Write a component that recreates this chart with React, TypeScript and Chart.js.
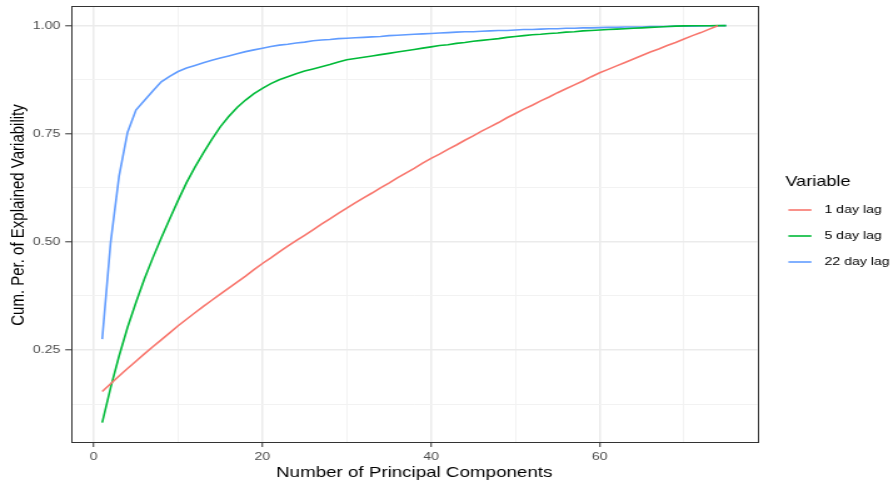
import React, { useEffect, useRef } from "react";
import { Chart, registerables } from "chart.js";

Chart.register(...registerables);

// ---- data ----
const seriesLabels = ["1 day lag", "5 day lag", "22 day lag"];
const seriesColors = ["#F8766D", "#00BA38", "#619CFF"];

const lag1 = [
  0.154, 0.172, 0.190, 0.207, 0.224, 0.241, 0.2575, 0.2735, 0.2895, 0.306,
  0.321, 0.336, 0.351, 0.365, 0.379, 0.393, 0.407, 0.421, 0.436, 0.450,
  0.463, 0.477, 0.490, 0.503, 0.515, 0.528, 0.541, 0.553, 0.566, 0.578,
  0.590, 0.602, 0.613, 0.625, 0.636, 0.648, 0.659, 0.670, 0.682, 0.693,
  0.703, 0.714, 0.724, 0.735, 0.745, 0.756, 0.766, 0.776, 0.787, 0.797,
  0.807, 0.816, 0.826, 0.835, 0.845, 0.854, 0.863, 0.872, 0.882, 0.891,
  0.899, 0.907, 0.915, 0.923, 0.931, 0.939, 0.946, 0.954, 0.961, 0.969,
  0.977, 0.984, 0.992, 1.0,
];

const lag5 = [
  0.082, 0.163, 0.236, 0.302, 0.360, 0.414, 0.463, 0.509, 0.553, 0.596,
  0.637, 0.673, 0.706, 0.737, 0.766, 0.790, 0.811, 0.828, 0.843, 0.855,
  0.866, 0.875, 0.882, 0.889, 0.895, 0.900, 0.905, 0.910, 0.916, 0.921,
  0.924, 0.927, 0.930, 0.933, 0.936, 0.939, 0.942, 0.945, 0.948, 0.951,
  0.954, 0.956, 0.959, 0.961, 0.964, 0.966, 0.968, 0.970, 0.973, 0.975,
  0.977, 0.979, 0.980, 0.982, 0.983, 0.985, 0.986, 0.988, 0.989, 0.990,
  0.991, 0.992, 0.993, 0.994, 0.995, 0.996, 0.997, 0.998, 0.999, 0.9995,
  0.9997, 0.9998, 0.9999, 1.0, 1.0,
];

const lag22 = [
  0.275, 0.499, 0.652, 0.753, 0.805, 0.827, 0.849, 0.870, 0.883, 0.894,
  0.902, 0.908, 0.914, 0.920, 0.925, 0.930, 0.935, 0.940, 0.944, 0.948,
  0.952, 0.955, 0.957, 0.960, 0.962, 0.965, 0.967, 0.968, 0.970, 0.971,
  0.972, 0.973, 0.974, 0.975, 0.977, 0.978, 0.979, 0.980, 0.981, 0.982,
  0.983, 0.984, 0.985, 0.986, 0.986, 0.987, 0.988, 0.989, 0.989, 0.990,
  0.991, 0.991, 0.992, 0.993, 0.993, 0.994, 0.994, 0.995, 0.995, 0.9955,
  0.996, 0.996, 0.997, 0.997, 0.997, 0.998, 0.998, 0.998, 0.999, 0.999,
  0.999, 0.9995, 0.9997, 0.9999, 1.0,
];

const xGridTicks = [0, 10, 20, 30, 40, 50, 60, 70];
const xLabelTicks = [0, 20, 40, 60];
const yGridTicks = [0.125, 0.25, 0.375, 0.5, 0.625, 0.75, 0.875, 1.0];
const yLabelTicks = [0.25, 0.5, 0.75, 1.0];

const xTitle = "Number of Principal Components";
const yTitle = "Cum. Per. of Explained Variability";
const legendTitle = "Variable";

// ---- layout (internal canvas px; canvas is stretched horizontally) ----
const SCREEN_W = 893;
const H = 485;
const STRETCH = 1.25;
const W = Math.round(SCREEN_W / STRETCH);
const FONT = "'Liberation Sans', Arial, Helvetica, sans-serif";
const TICK_SIZE = 11.3;
const TITLE_SIZE = 15;

const isLabel = (v: number, list: number[]) =>
  list.some((t) => Math.abs(t - v) < 1e-9);

const borderPlugin = {
  id: "panelBorder",
  afterDatasetsDraw(chart: any) {
    const { ctx, chartArea } = chart;
    ctx.save();
    ctx.strokeStyle = "#333333";
    ctx.lineWidth = 1;
    ctx.strokeRect(
      Math.round(chartArea.left) + 0.5,
      Math.round(chartArea.top) + 0.5,
      Math.round(chartArea.right - chartArea.left),
      Math.round(chartArea.bottom - chartArea.top)
    );
    ctx.restore();
  },
};

const yTitlePlugin = {
  id: "yTitle",
  afterDraw(chart: any) {
    const ctx = chart.ctx;
    ctx.save();
    ctx.translate(19 / STRETCH, 215);
    ctx.rotate(-Math.PI / 2);
    ctx.fillStyle = "#000000";
    ctx.textAlign = "center";
    ctx.textBaseline = "middle";
    ctx.font = `${TITLE_SIZE}px ${FONT}`;
    ctx.fillText(yTitle, 0, 0);
    ctx.restore();
  },
};

const legendPlugin = {
  id: "ggLegend",
  afterDraw(chart: any) {
    const ctx = chart.ctx;
    ctx.save();
    ctx.fillStyle = "#000000";
    ctx.textBaseline = "middle";
    ctx.textAlign = "left";
    ctx.font = `14.5px ${FONT}`;
    ctx.fillText(legendTitle, 785 / STRETCH, 182);
    const rows = [210, 236, 262];
    chart.data.datasets.forEach((ds: any, i: number) => {
      const y = rows[i];
      ctx.strokeStyle = ds.borderColor;
      ctx.lineWidth = 1.6;
      ctx.beginPath();
      ctx.moveTo(788 / STRETCH, y);
      ctx.lineTo(811 / STRETCH, y);
      ctx.stroke();
      ctx.fillStyle = "#000000";
      ctx.font = `${TICK_SIZE}px ${FONT}`;
      ctx.fillText(ds.label, 824 / STRETCH, y);
    });
    ctx.restore();
  },
};

export default function App() {
  const ref = useRef<HTMLCanvasElement | null>(null);

  useEffect(() => {
    if (!ref.current) return;
    const series = [lag1, lag5, lag22];
    const chart = new Chart(ref.current, {
      type: "line",
      data: {
        datasets: series.map((vals, s) => ({
          label: seriesLabels[s],
          data: vals.map((y, i) => ({ x: i + 1, y })),
          borderColor: seriesColors[s],
          backgroundColor: seriesColors[s],
          borderWidth: 1.6,
          pointRadius: 0,
          tension: 0,
          fill: false,
        })),
      },
      options: {
        responsive: false,
        animation: false,
        devicePixelRatio: 1,
        layout: { padding: { top: 6, right: W - 757 / STRETCH, bottom: 0, left: 0 } },
        plugins: {
          legend: { display: false },
          tooltip: { enabled: false },
        },
        scales: {
          x: {
            type: "linear",
            min: -2.7,
            max: 78.7,
            afterBuildTicks: (scale: any) => {
              scale.ticks = xGridTicks.map((v) => ({ value: v }));
            },
            afterFit: (scale: any) => {
              scale.height = H - 442;
              scale.paddingLeft = 0;
              scale.paddingRight = 0;
              scale.paddingTop = 0;
              scale.paddingBottom = 0;
            },
            ticks: {
              autoSkip: false,
              maxRotation: 0,
              padding: 3,
              color: "#4D4D4D",
              font: { family: FONT, size: TICK_SIZE },
              callback: (v: any) => (isLabel(Number(v), xLabelTicks) ? String(v) : ""),
            },
            grid: {
              color: (c: any) => (isLabel(c.tick?.value, xLabelTicks) ? "#EBEBEB" : "#F2F2F2"),
              lineWidth: (c: any) => (isLabel(c.tick?.value, xLabelTicks) ? 1.5 : 1),
              tickColor: (c: any) => (isLabel(c.tick?.value, xLabelTicks) ? "#333333" : "rgba(0,0,0,0)"),
              tickLength: 5,
              tickWidth: 1,
            },
            border: { display: false },
            title: {
              display: true,
              text: xTitle,
              color: "#000000",
              font: { family: FONT, size: TITLE_SIZE },
              padding: { top: 0, bottom: 3 },
            },
          },
          y: {
            type: "linear",
            min: 0.0372,
            max: 1.0455,
            afterBuildTicks: (scale: any) => {
              scale.ticks = yGridTicks.map((v) => ({ value: v }));
            },
            afterFit: (scale: any) => {
              scale.width = 71 / STRETCH;
              scale.paddingLeft = 0;
              scale.paddingRight = 0;
              scale.paddingTop = 0;
              scale.paddingBottom = 0;
            },
            ticks: {
              autoSkip: false,
              padding: 4,
              color: "#4D4D4D",
              font: { family: FONT, size: TICK_SIZE },
              callback: (v: any) => (isLabel(Number(v), yLabelTicks) ? Number(v).toFixed(2) : ""),
            },
            grid: {
              color: (c: any) => (isLabel(c.tick?.value, yLabelTicks) ? "#EBEBEB" : "#F2F2F2"),
              lineWidth: (c: any) => (isLabel(c.tick?.value, yLabelTicks) ? 1.6 : 1),
              tickColor: (c: any) => (isLabel(c.tick?.value, yLabelTicks) ? "#333333" : "rgba(0,0,0,0)"),
              tickLength: 4.6,
              tickWidth: 1,
            },
            border: { display: false },
            title: { display: false },
          },
        },
      },
      plugins: [borderPlugin, yTitlePlugin, legendPlugin],
    } as any);
    return () => chart.destroy();
  }, []);

  return (
    <canvas
      ref={ref}
      width={W}
      height={H}
      style={{
        position: "fixed",
        left: 0,
        top: 0,
        width: `${SCREEN_W}px`,
        height: `${H}px`,
        background: "#FFFFFF",
      }}
    />
  );
}
